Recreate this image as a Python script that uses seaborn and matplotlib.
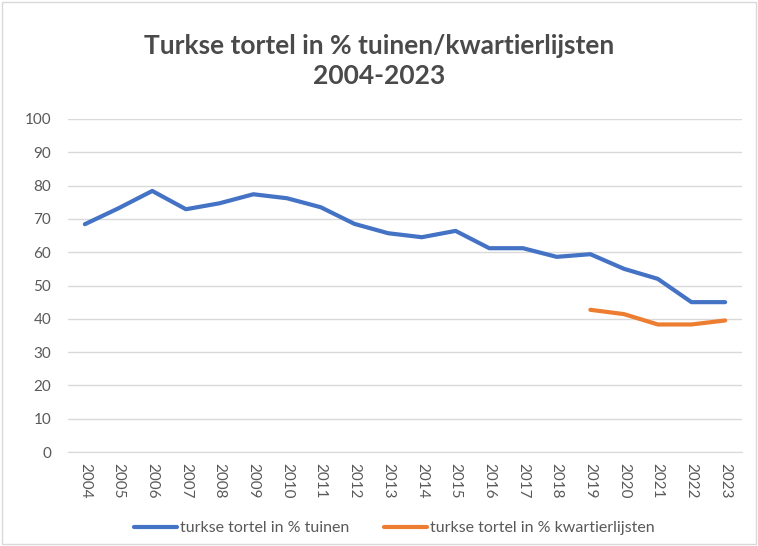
import matplotlib
matplotlib.use("Agg")
import matplotlib.pyplot as plt
import numpy as np
import pandas as pd
import seaborn as sns
from matplotlib.patches import Rectangle

years = list(range(2004, 2024))
tuinen = [68.4, 73.2, 78.4, 72.9, 74.7, 77.4, 76.2, 73.5, 68.5, 65.7,
          64.5, 66.4, 61.2, 61.2, 58.6, 59.4, 55.0, 52.0, 45.0, 45.0]
kwartier = [np.nan] * 15 + [42.7, 41.4, 38.3, 38.3, 39.5]
labels = ["turkse tortel in % tuinen", "turkse tortel in % kwartierlijsten"]
title = "Turkse tortel in % tuinen/kwartierlijsten\n2004-2023"

df = pd.DataFrame({"jaar": years * 2,
                   "waarde": tuinen + kwartier,
                   "reeks": [labels[0]] * 20 + [labels[1]] * 20})

sns.set_style("white")
plt.rcParams['font.family'] = ['Lato', 'DejaVu Sans']
txt = "#595959"

fig = plt.figure(figsize=(7.58, 5.46), dpi=100)
ax = fig.add_axes([68 / 758, 1 - 452 / 546, 674 / 758, 333 / 546])

sns.lineplot(data=df, x="jaar", y="waarde", hue="reeks",
             palette=["#4472C4", "#ED7D31"], linewidth=3, ax=ax, legend=False)

ax.set_xlim(2003.5, 2023.5)
ax.set_ylim(0, 100)
ax.set_yticks(range(0, 101, 10))
ax.set_xticks(years)
ax.set_xticklabels([str(y) for y in years], rotation=270, fontsize=11, color=txt)
ax.tick_params(axis="y", labelsize=11, labelcolor=txt, length=0, pad=12)
ax.tick_params(axis="x", length=0, pad=8)
ax.grid(axis="y", color="#D9D9D9", linewidth=1)
ax.set_axisbelow(True)
for s in ["top", "right", "left"]:
    ax.spines[s].set_visible(False)
ax.spines["bottom"].set_color("#D9D9D9")
ax.set_xlabel("")
ax.set_ylabel("")

fig.text(0.5, 1 - 61 / 546, title, ha="center", va="center", fontsize=19,
         fontweight="bold", color="#4a4a4a", linespacing=1.25)

handles = [plt.Line2D([], [], color="#4472C4", linewidth=3),
           plt.Line2D([], [], color="#ED7D31", linewidth=3)]
fig.legend(handles, labels, loc="center", bbox_to_anchor=(0.52, 1 - 528 / 546),
           ncol=2, frameon=False, fontsize=11.5, labelcolor=txt,
           handlelength=2.7, handletextpad=0.15, columnspacing=2.2)

fig.patches.append(Rectangle((0.003, 0.003), 0.994, 0.994, transform=fig.transFigure,
                             fill=False, edgecolor="#D9D9D9", linewidth=1))

fig.savefig("out.png", dpi=100)
